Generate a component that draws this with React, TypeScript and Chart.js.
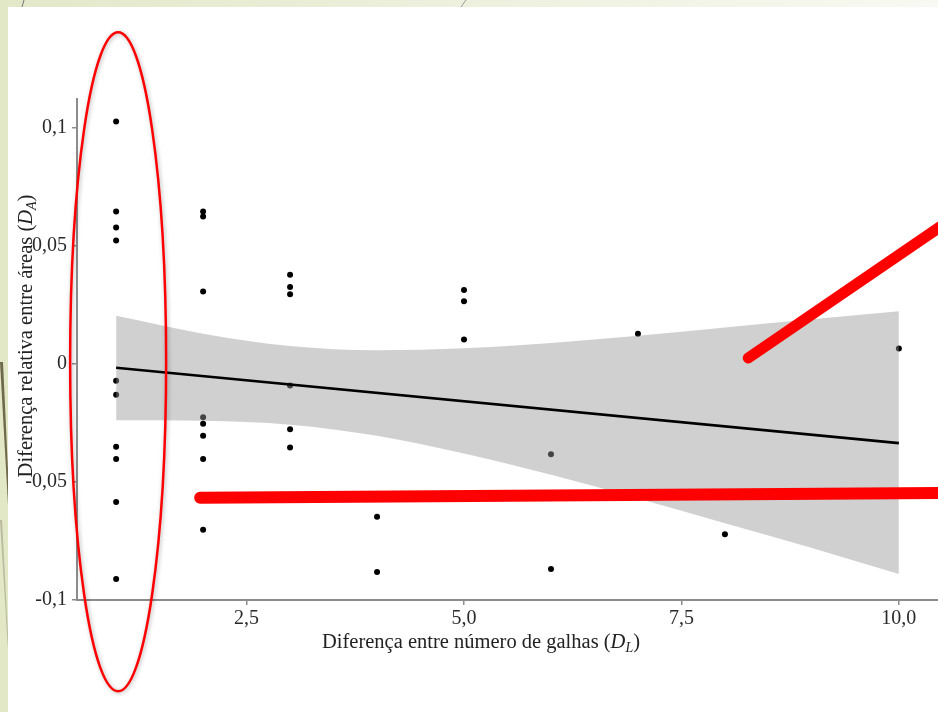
import React, { useEffect, useRef } from "react";
import { Chart, registerables } from "chart.js";

Chart.register(...registerables);

// ---- data ----
const POINT_X = [
  1, 1, 1, 1, 1, 1, 1, 1, 1, 1,
  2, 2, 2, 2, 2, 2, 2, 2,
  3, 3, 3, 3, 3, 3,
  4, 4,
  5, 5, 5,
  6, 6,
  7,
  8,
  10,
];
const POINT_Y = [
  0.1025, 0.0644, 0.0576, 0.0521, -0.0072, -0.0131, -0.0352, -0.0403, -0.0585, -0.0911,
  0.0644, 0.0623, 0.0305, -0.0227, -0.0254, -0.0305, -0.0403, -0.0703,
  0.0376, 0.0325, 0.0294, -0.0092, -0.0277, -0.0355,
  -0.0648, -0.0881,
  0.0312, 0.0264, 0.0102,
  -0.0383, -0.0869,
  0.0127,
  -0.0722,
  0.0064,
];

const FIT_X = [1, 10];
const FIT_Y = [-0.0017, -0.0336];

const BAND_X = [1, 2, 3, 4, 5, 6, 7, 8, 9, 10];
const BAND_UPPER = [0.0203, 0.0127, 0.0075, 0.0057, 0.0065, 0.0088, 0.0118, 0.0153, 0.0188, 0.0222];
const BAND_LOWER = [-0.0239, -0.0242, -0.0258, -0.0305, -0.038, -0.047, -0.057, -0.0675, -0.078, -0.089];

const X_TICKS = [2.5, 5, 7.5, 10];
const X_TICK_LABELS = ["2,5", "5,0", "7,5", "10,0"];
const Y_TICKS = [-0.1, -0.05, 0, 0.05, 0.1];
const Y_TICK_LABELS = ["-0,1", "-0,05", "0", "0,05", "0,1"];

const X_TITLE = [
  { text: "Diferença entre número de galhas (" },
  { text: "D", italic: true },
  { text: "L", italic: true, sub: true },
  { text: ")" },
];
const Y_TITLE = [
  { text: "Diferença relativa entre áreas (" },
  { text: "D", italic: true },
  { text: "A", italic: true, sub: true },
  { text: ")" },
];

// annotations in data units: ellipse around x = 1, two red strokes
const ELLIPSE = { cx: 1.023, cy: 0.0008, rx: 0.552, ry: 0.1394 };
const STROKE_1 = { x1: 8.268, y1: 0.0024, x2: 10.7, y2: 0.0636 };
const STROKE_2 = { x1: 1.966, y1: -0.0567, x2: 10.7, y2: -0.0547 };

const FONT = '"Liberation Serif", "Times New Roman", serif';

type Part = { text: string; italic?: boolean; sub?: boolean };

function drawRich(ctx: CanvasRenderingContext2D, parts: Part[], cx: number, cy: number) {
  const size = 20.5;
  const subSize = 14;
  const fontOf = (p: Part) =>
    `${p.italic ? "italic " : ""}${p.sub ? subSize : size}px ${FONT}`;
  let total = 0;
  const widths = parts.map((p) => {
    ctx.font = fontOf(p);
    const w = ctx.measureText(p.text).width;
    total += w;
    return w;
  });
  let x = cx - total / 2;
  ctx.textBaseline = "alphabetic";
  ctx.textAlign = "left";
  ctx.fillStyle = "#222";
  const base = cy + 7;
  parts.forEach((p, i) => {
    ctx.font = fontOf(p);
    ctx.fillText(p.text, x, p.sub ? base + 4 : base);
    x += widths[i];
  });
}

const decorPlugin = {
  id: "decor",
  afterDraw(chart: any) {
    const ctx: CanvasRenderingContext2D = chart.ctx;
    const xs = chart.scales.x;
    const ys = chart.scales.y;
    const ca = chart.chartArea;

    // axis titles
    ctx.save();
    drawRich(ctx, X_TITLE, ca.left + 404, ca.bottom + 41);
    ctx.translate(ca.left - 52, ca.top + 237);
    ctx.rotate(-Math.PI / 2);
    drawRich(ctx, Y_TITLE, 0, 0);
    ctx.restore();

    // red ellipse
    ctx.save();
    const cx = xs.getPixelForValue(ELLIPSE.cx);
    const cy = ys.getPixelForValue(ELLIPSE.cy);
    const rx = Math.abs(xs.getPixelForValue(ELLIPSE.cx + ELLIPSE.rx) - cx);
    const ry = Math.abs(ys.getPixelForValue(ELLIPSE.cy + ELLIPSE.ry) - cy);
    ctx.shadowColor = "rgba(0,0,0,0.3)";
    ctx.shadowBlur = 4;
    ctx.shadowOffsetX = 1;
    ctx.shadowOffsetY = 1;
    ctx.strokeStyle = "#ff0000";
    ctx.lineWidth = 2.5;
    ctx.beginPath();
    ctx.ellipse(cx, cy, rx, ry, 0, 0, Math.PI * 2);
    ctx.stroke();
    ctx.restore();

    // red strokes
    ctx.save();
    ctx.strokeStyle = "#ff0000";
    ctx.lineCap = "round";
    [STROKE_1, STROKE_2].forEach((s, i) => {
      ctx.lineWidth = i === 0 ? 11 : 12;
      ctx.beginPath();
      ctx.moveTo(xs.getPixelForValue(s.x1), ys.getPixelForValue(s.y1));
      ctx.lineTo(xs.getPixelForValue(s.x2), ys.getPixelForValue(s.y2));
      ctx.stroke();
    });
    ctx.restore();
  },
};

export default function App() {
  const ref = useRef<HTMLCanvasElement>(null);

  useEffect(() => {
    if (!ref.current) return;
    const points = POINT_X.map((x, i) => ({ x, y: POINT_Y[i] }));
    const fit = FIT_X.map((x, i) => ({ x, y: FIT_Y[i] }));
    const lower = BAND_X.map((x, i) => ({ x, y: BAND_LOWER[i] }));
    const upper = BAND_X.map((x, i) => ({ x, y: BAND_UPPER[i] }));

    const axisGray = "#8c8c8c";
    const tickFont = { family: FONT, size: 20 };

    const chart = new Chart(ref.current, {
      type: "scatter",
      data: {
        datasets: [
          {
            type: "scatter",
            label: "pontos",
            data: points,
            backgroundColor: "#000",
            borderColor: "#000",
            pointRadius: 3,
            pointBorderWidth: 0,
            order: 3,
          },
          {
            type: "line",
            label: "IC inferior",
            data: lower,
            borderColor: "transparent",
            borderWidth: 0,
            pointRadius: 0,
            fill: false,
            cubicInterpolationMode: "monotone",
            order: 2,
          },
          {
            type: "line",
            label: "IC superior",
            data: upper,
            borderColor: "transparent",
            borderWidth: 0,
            pointRadius: 0,
            fill: "-1",
            backgroundColor: "rgba(150,150,150,0.45)",
            cubicInterpolationMode: "monotone",
            order: 2,
          },
          {
            type: "line",
            label: "ajuste",
            data: fit,
            borderColor: "#000",
            borderWidth: 2.6,
            pointRadius: 0,
            fill: false,
            order: 1,
          },
        ],
      } as any,
      options: {
        responsive: false,
        animation: false,
        devicePixelRatio: 1,
        layout: { autoPadding: false, padding: { top: 99, left: 0, right: 0, bottom: 0 } },
        plugins: {
          legend: { display: false },
          tooltip: { enabled: false },
        },
        scales: {
          x: {
            type: "linear",
            min: 0.55,
            max: 10.45,
            afterBuildTicks: (s: any) => {
              s.ticks = X_TICKS.map((v) => ({ value: v }));
            },
            afterFit: (s: any) => {
              s.height = 112;
              s.paddingLeft = 0;
              s.paddingRight = 0;
            },
            ticks: {
              font: tickFont,
              color: "#2a2a2a",
              padding: 2,
              maxRotation: 0,
              autoSkip: false,
              callback: (v: any) => X_TICK_LABELS[X_TICKS.indexOf(v)],
            },
            grid: {
              display: true,
              drawOnChartArea: false,
              drawTicks: true,
              tickLength: 5,
              color: axisGray,
              lineWidth: 1.5,
            },
            border: { display: true, color: axisGray, width: 2 },
          },
          y: {
            type: "linear",
            min: -0.1,
            max: 0.112,
            afterBuildTicks: (s: any) => {
              s.ticks = Y_TICKS.map((v) => ({ value: v }));
            },
            afterFit: (s: any) => {
              s.width = 77;
              s.paddingTop = 0;
              s.paddingBottom = 0;
            },
            ticks: {
              font: tickFont,
              color: "#2a2a2a",
              padding: 5,
              autoSkip: false,
              callback: (v: any) => Y_TICK_LABELS[Y_TICKS.indexOf(v)],
            },
            grid: {
              display: true,
              drawOnChartArea: false,
              drawTicks: true,
              tickLength: 5,
              color: axisGray,
              lineWidth: 1.5,
            },
            border: { display: true, color: axisGray, width: 2 },
          },
        },
      } as any,
      plugins: [decorPlugin],
    });
    return () => chart.destroy();
  }, []);

  return (
    <div
      style={{
        position: "fixed",
        left: 0,
        top: 0,
        width: 938,
        height: 712,
        background: "#ffffff",
        overflow: "hidden",
      }}
    >
      <svg
        width={938}
        height={712}
        style={{ position: "absolute", left: 0, top: 0 }}
      >
        <defs>
          <linearGradient id="topband" x1="0" y1="0" x2="1" y2="0">
            <stop offset="0" stopColor="#e3e8c9" />
            <stop offset="1" stopColor="#f8f9f2" />
          </linearGradient>
        </defs>
        <rect x={0} y={0} width={938} height={7} fill="url(#topband)" />
        <rect x={0} y={0} width={8} height={712} fill="#e2e7c6" />
        <polygon points="0,362 3,362 8,470 8,505" fill="#6f6a4b" />
        <polygon points="0,520 2,520 8,635 8,650" fill="#b9b9a0" />
        <line x1={24} y1={0} x2={22} y2={7} stroke="#777" strokeWidth={1} />
        <line x1={466} y1={0} x2={461} y2={7} stroke="#999" strokeWidth={1} />
      </svg>
      <canvas
        ref={ref}
        width={938}
        height={712}
        style={{ position: "absolute", left: 0, top: 0, width: 938, height: 712 }}
      />
    </div>
  );
}
